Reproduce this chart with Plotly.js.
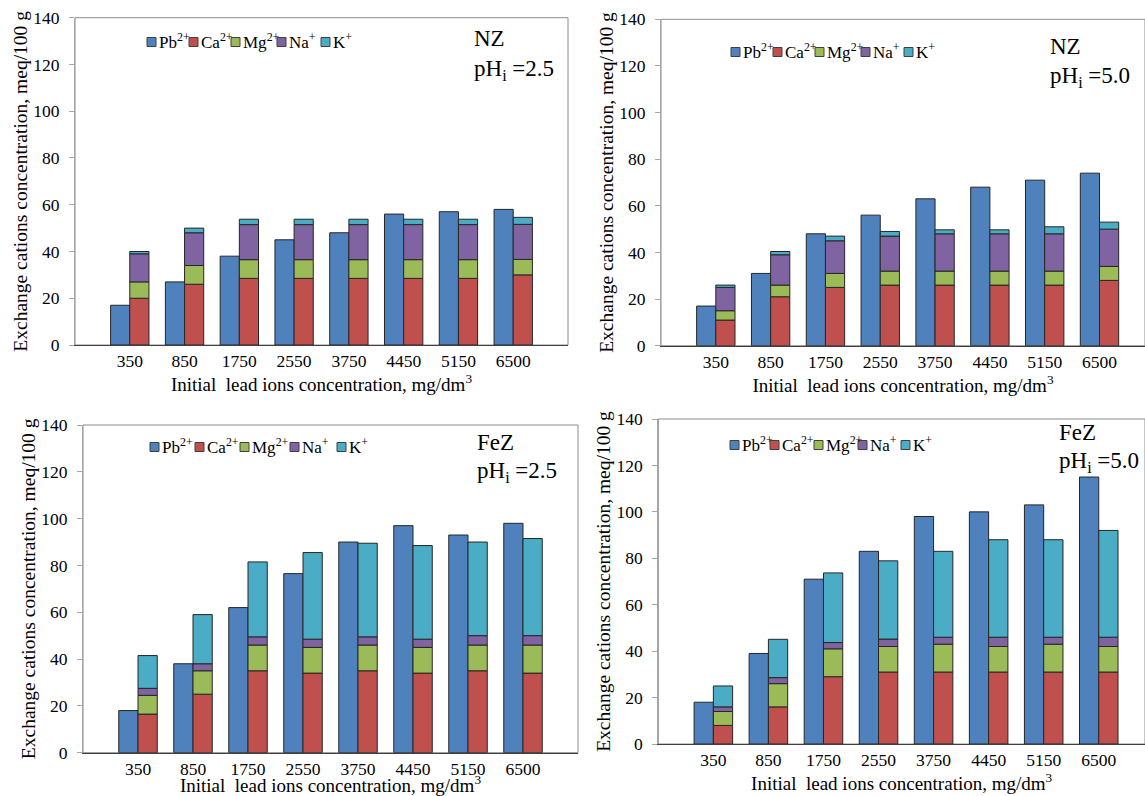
<!DOCTYPE html>
<html><head><meta charset="utf-8">
<script src="https://cdn.plot.ly/plotly-3.0.1.min.js"></script>
<style>html,body{margin:0;padding:0;background:#fff;}#chart{width:1145px;height:796px;}</style>
</head><body><div id="chart"></div>
<script>
const categories = ['350','850','1750','2550','3750','4450','5150','6500'];
const seriesNames = ['Pb<sup>2+</sup>','Ca<sup>2+</sup>','Mg<sup>2+</sup>','Na<sup>+</sup>','K<sup>+</sup>'];
const seriesColors = ['#4F81BD','#C0504D','#9BBB59','#8064A2','#4BACC6'];

// NZ, pHi = 2.5
const nz25Pb = [17,27,38,45,48,56,57,58];
const nz25Ca = [20,26,28.5,28.5,28.5,28.5,28.5,30];
const nz25Mg = [7,8,8,8,8,8,8,6.6];
const nz25Na = [12,14,15,15,15,15,15,15];
const nz25K  = [1,2,2.3,2.3,2.3,2.3,2.3,3];
// NZ, pHi = 5.0
const nz50Pb = [17,31,48,56,63,68,71,74];
const nz50Ca = [11,21,25,26,26,26,26,28];
const nz50Mg = [4,5,6,6,6,6,6,6];
const nz50Na = [10,13,14,15,16,16,16,16];
const nz50K  = [1,1.4,2,2,1.7,1.7,3,3];
// FeZ, pHi = 2.5
const fe25Pb = [18,38,62,76.5,90,97,93,98];
const fe25Ca = [16.5,25,35,34,35,34,35,34];
const fe25Mg = [8,10,11,11,11,11,11,12];
const fe25Na = [3,3,3.5,3.5,3.5,3.5,4,4];
const fe25K  = [14,21,32,37,40,40,40,41.5];
// FeZ, pHi = 5.0
const fe50Pb = [18,39,71,83,98,100,103,115];
const fe50Ca = [8,16,29,31,31,31,31,31];
const fe50Mg = [6,10,12,11,12,11,12,11];
const fe50Na = [2,2.6,2.7,3.2,3,4,3,4];
const fe50K  = [9,16.5,30,33.7,37,42,42,46];

const panelLabels = [['NZ','pH<sub>i</sub> =2.5'],['NZ','pH<sub>i</sub> =5.0'],['FeZ','pH<sub>i</sub> =2.5'],['FeZ','pH<sub>i</sub> =5.0']];
const yTickVals = [0,20,40,60,80,100,120,140];
const xTitle = 'Initial\u00a0 lead ions concentration, mg/dm<sup>3</sup>';
const yTitle = 'Exchange cations concentration, meq/100 g';

// layout of each panel (pixel positions of plot areas, legend and labels)
const panels = [
  {data:[nz25Pb,nz25Ca,nz25Mg,nz25Na,nz25K], xd:[75,568], yd:[17.7,345], xr:[-1,8], xts:7,
   leg:[147,42], legOff:[0,42,84,130,174], lab:[472,38,70]},
  {data:[nz50Pb,nz50Ca,nz50Mg,nz50Na,nz50K], xd:[661,1145], yd:[19.3,345.7], xr:[-1,7.83], xts:5,
   leg:[731,52], legOff:[0,42,84,130,173], lab:[1048,47,77]},
  {data:[fe25Pb,fe25Ca,fe25Mg,fe25Na,fe25K], xd:[83,578], yd:[425,752.7], xr:[-1,8], xts:1,
   leg:[150,447], legOff:[0,45,90,140,187], lab:[475,442,472]},
  {data:[fe50Pb,fe50Ca,fe50Mg,fe50Na,fe50K], xd:[658.3,1145], yd:[419,744], xr:[-1,7.84], xts:4,
   leg:[730,445], legOff:[0,40,84,128,171], lab:[1057,432,462]}
];

const W = 1145, H = 796;
const FONT = 'Liberation Serif';
const traces = [];
const layout = {
  width: W, height: H, margin:{l:0,r:0,t:0,b:0}, paper_bgcolor:'#fff', plot_bgcolor:'#fff',
  barmode:'overlay', showlegend:false, font:{family:FONT, color:'#000', size:17},
  annotations:[], shapes:[]
};

panels.forEach((p, i) => {
  const n = i === 0 ? '' : String(i + 1);
  const xa = 'x' + n, ya = 'y' + n;
  const base = categories.map(() => 0);
  p.data.forEach((vals, s) => {
    const isPb = s === 0;
    const b = isPb ? categories.map(() => 0) : base.slice();
    traces.push({
      type:'bar', x:categories, y:vals, base:b, name:seriesNames[s],
      xaxis:xa, yaxis:ya,
      offset: isPb ? -0.35 : 0, width:0.35,
      marker:{color:seriesColors[s], line:{color:'#262626', width:1}},
      hoverinfo:'x+y+name'
    });
    if (!isPb) vals.forEach((v, k) => { base[k] += v; });
  });
  layout['xaxis' + n] = {
    type:'category', domain:[p.xd[0]/W, p.xd[1]/W], anchor:ya, range:p.xr,
    showline:true, linecolor:'#404040', linewidth:1.3, ticks:'', showgrid:false, zeroline:false,
    tickfont:{family:FONT, size:17.5, color:'#000'},
    title:{text:xTitle, font:{family:FONT, size:19, color:'#000'}, standoff:p.xts}
  };
  layout['yaxis' + n] = {
    domain:[1 - p.yd[1]/H, 1 - p.yd[0]/H], anchor:xa, range:[0,140], tickvals:yTickVals,
    showline:true, linecolor:'#A6A6A6', linewidth:1, ticks:'outside', ticklen:5, tickcolor:'#A6A6A6',
    ticklabelstandoff:6, showgrid:false, zeroline:false,
    tickfont:{family:FONT, size:17.5, color:'#000'},
    title:{text:yTitle, font:{family:FONT, size:19.5, color:'#000'}, standoff:0}
  };
  layout.shapes.push({type:'rect', xref:xa + ' domain', yref:ya + ' domain', x0:0, x1:1, y0:0, y1:1,
    line:{color:'#8C8C8C', width:1}, layer:'below'});
  // legend: coloured squares with names
  seriesNames.forEach((nm, s) => {
    const lx = p.leg[0] + p.legOff[s];
    layout.shapes.push({type:'rect', xref:'paper', yref:'paper',
      x0:lx/W, x1:(lx + 9)/W, y0:1 - (p.leg[1] + 4.5)/H, y1:1 - (p.leg[1] - 4.5)/H,
      fillcolor:seriesColors[s], line:{color:'#404040', width:1}});
    layout.annotations.push({text:nm, xref:'paper', yref:'paper', x:(lx + 10)/W, y:1 - (p.leg[1] - 1)/H,
      xanchor:'left', yanchor:'middle', showarrow:false, font:{family:FONT, size:17, color:'#000'}});
  });
  layout.annotations.push({text:panelLabels[i][0], xref:'paper', yref:'paper', x:p.lab[0]/W, y:1 - p.lab[1]/H,
    xanchor:'left', yanchor:'middle', showarrow:false, font:{family:FONT, size:23, color:'#000'}});
  layout.annotations.push({text:panelLabels[i][1], xref:'paper', yref:'paper', x:p.lab[0]/W, y:1 - p.lab[2]/H,
    xanchor:'left', yanchor:'middle', showarrow:false, font:{family:FONT, size:23, color:'#000'}});
});

Plotly.newPlot('chart', traces, layout, {displayModeBar:false, staticPlot:true});
</script>
</body></html>
